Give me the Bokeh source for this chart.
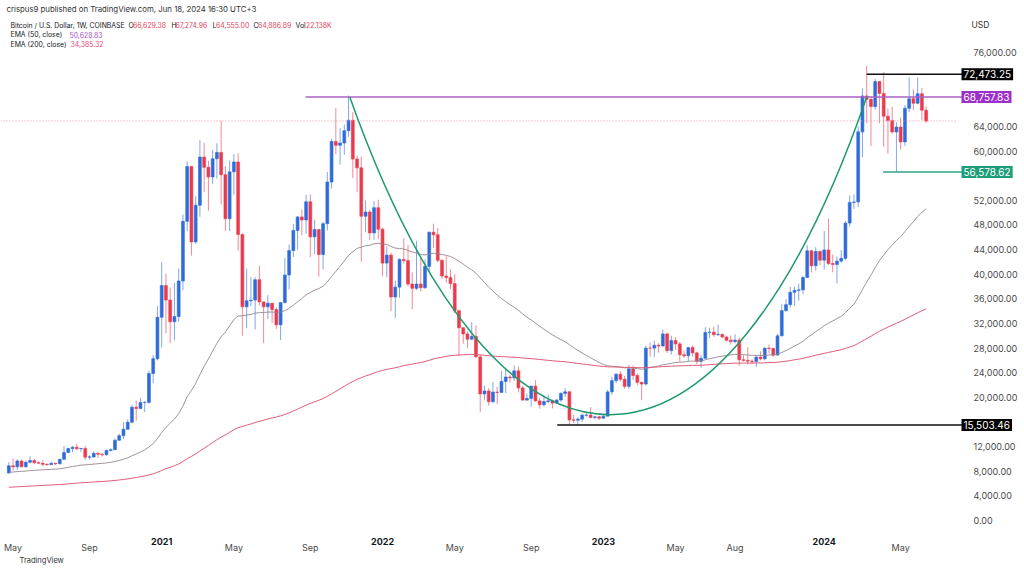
import numpy as np
import pandas as pd
from bokeh.plotting import figure
from bokeh.models import Range1d, FixedTicker, NumeralTickFormatter, Label, ColumnDataSource
from bokeh.embed import file_html
from bokeh.resources import INLINE

# ---------------- data (weekly BTC/USD, Coinbase) ----------------
START_DATE = "2020-04-27"

opens = [
    # 2020
    7700, 8900, 8720, 9670, 8720, 9450, 9750, 9390, 9300, 9120, 9070, 9300, 9210, 9930, 11050, 11680,
    11910, 11660, 11700, 10280, 10330, 10920, 10770, 10670, 11380, 11500, 13030, 13780, 14830, 15960,
    18400, 18180, 19150, 19170, 23860, 26270,
    # 2021
    33000, 38150, 35800, 32290, 33110, 38900, 48580, 57490, 45240, 51200, 59020, 57350, 55780, 58730,
    59770, 56150, 49000, 56620, 58230, 46430, 34700, 35680, 35800, 39100, 35500, 34700, 35290, 34260,
    31780, 35400, 39860, 43830, 47100, 49300, 48800, 51750, 46060, 47260, 43200, 48200, 54960, 61550,
    60930, 61300, 63300, 65000, 58700, 57270, 49400, 50100, 46700, 50800,
    # 2022
    47300, 41800, 43100, 36300, 37900, 42400, 42200, 38400, 37700, 38400, 37800, 41260, 46820, 46400,
    42250, 39700, 39450, 38470, 34060, 31300, 30290, 29440, 29900, 26570, 20550, 21030, 19300, 20850,
    20800, 22580, 23300, 23170, 24300, 21530, 19550, 19830, 21830, 19420, 18800, 19310, 19440, 19070,
    19570, 20630, 20900, 16330, 16280, 16460, 17100, 17130, 16740, 16840,
    # 2023
    16610, 16940, 20880, 22710, 23750, 22940, 21780, 24630, 23550, 22430, 22160, 28000, 27990, 28460,
    28330, 30300, 27590, 29230, 28680, 26920, 26750, 28080, 27220, 25840, 26340, 30540, 30590, 30170,
    30230, 29800, 29280, 29050, 29300, 26100, 26010, 25870, 25830, 26530, 26250, 27990, 27940, 26860,
    29990, 34080, 35050, 37060, 37370, 37460, 39460, 43790, 41370, 43700,
    # 2024
    42270, 43940, 41730, 41580, 42120, 42580, 48300, 51660, 51730, 63110, 68950, 68390, 67210, 71280,
    69360, 65660, 64940, 63100, 63890, 61480, 66940, 68500, 67760, 69300, 66629.38,
]

highs = [
    9460, 10070, 9950, 9870, 9740, 10430, 9990, 9590, 9780, 9270, 9480, 9360, 9970, 12100, 11800, 12090,
    12480, 11770, 12090, 10590, 11190, 10990, 10960, 11500, 11720, 13350, 14100, 15960, 16480, 18800,
    19480, 19920, 19420, 24300, 26870, 34800,
    41950, 40100, 37850, 38550, 40940, 49700, 58350, 57500, 52640, 61790, 61300, 58430, 60200, 61250,
    64900, 57550, 58450, 59500, 59600, 46650, 40900, 39500, 39500, 41350, 35500, 36600, 35300, 34600,
    35450, 42600, 44800, 48140, 49400, 50500, 52900, 52950, 48850, 47350, 48500, 56600, 62000, 67000,
    63700, 64300, 69000, 66300, 59300, 59100, 51950, 50500, 51900, 52100,
    47560, 44500, 43500, 38950, 42600, 45850, 44750, 40300, 45400, 42600, 42400, 46900, 48200, 47500,
    42400, 42900, 40800, 40000, 34250, 31350, 30650, 32200, 31700, 26870, 21900, 21530, 22500, 21700,
    24300, 24650, 23650, 25200, 25000, 21850, 20600, 21850, 22800, 19950, 20350, 20480, 19650, 19700,
    20850, 21450, 21050, 17200, 16800, 17380, 17400, 18400, 16950, 16960,
    17200, 21250, 23350, 23950, 24250, 23450, 25250, 25130, 23900, 22600, 28400, 28900, 29200, 28800,
    31000, 30500, 30000, 29800, 29000, 27600, 28200, 28450, 27400, 26800, 31400, 31300, 31500, 31800,
    30350, 30000, 30050, 30250, 29700, 26800, 28150, 26150, 26850, 27500, 28100, 28600, 28000, 30300,
    35200, 35950, 37950, 37950, 38450, 39700, 44700, 43950, 44400, 43800,
    47000, 49000, 43200, 42850, 43900, 48600, 52800, 52950, 64000, 70200, 73800, 68900, 71700, 71300,
    72800, 66900, 67200, 64700, 65500, 67450, 71950, 70000, 71950, 70200, 67274.96,
]

lows = [
    7650, 8120, 8200, 8700, 8630, 9260, 9150, 9220, 8830, 8900, 9060, 9000, 9140, 9900, 10960, 11100,
    11380, 11120, 9830, 9880, 10200, 10140, 10380, 10540, 11220, 11420, 12970, 13200, 14800, 15790,
    16200, 18110, 17600, 19000, 22300, 26000,
    28100, 30400, 28800, 29250, 32300, 37400, 47000, 43000, 44950, 49300, 53300, 50300, 54700, 55500,
    51300, 47000, 47000, 52900, 43800, 30000, 31200, 34800, 31000, 34900, 28800, 32700, 32100, 31100,
    29300, 35200, 37500, 42800, 43950, 46300, 46550, 42800, 43300, 39600, 40750, 47100, 53900, 59500,
    57800, 59400, 62300, 55600, 53300, 42000, 46800, 45500, 45600, 45700,
    39650, 39500, 34000, 32900, 36200, 41700, 38000, 34300, 37400, 37200, 37600, 40500, 44300, 41900,
    39200, 38600, 37600, 33700, 26700, 28700, 28000, 29300, 26500, 17600, 19600, 18650, 19050, 18900,
    20750, 20700, 22400, 22700, 20800, 19520, 19500, 18500, 19300, 18150, 18500, 19050, 18200, 18900,
    19250, 20050, 15600, 15800, 15503.46, 16000, 16860, 16550, 16400, 16330,
    16500, 16900, 20400, 22300, 22550, 21400, 21400, 22800, 21950, 19550, 21900, 26600, 26550, 27250,
    28300, 27200, 26950, 27700, 25800, 26400, 25900, 26600, 25400, 24800, 26250, 29600, 29800, 29950,
    29600, 29050, 28600, 28750, 25150, 25800, 25350, 25400, 24900, 26000, 26000, 27150, 26550, 26800,
    29900, 33900, 34550, 34800, 35700, 36800, 39400, 40300, 40550, 41450,
    40750, 41500, 40300, 38500, 41850, 42250, 47700, 50600, 50900, 59000, 64500, 60800, 66700, 64500,
    60700, 59600, 62800, 56578.62, 60200, 60800, 66300, 66600, 67600, 65100, 64555,
]

closes = [
    8900, 8720, 9670, 8720, 9450, 9750, 9390, 9300, 9120, 9070, 9300, 9210, 9930, 11050, 11680, 11910,
    11660, 11700, 10280, 10330, 10920, 10770, 10670, 11380, 11500, 13030, 13780, 14830, 15960, 18400,
    18180, 19150, 19170, 23860, 26270, 33000,
    38150, 35800, 32290, 33110, 38900, 48580, 57490, 45240, 51200, 59020, 57350, 55780, 58730, 59770,
    56150, 49000, 56620, 58230, 46430, 34700, 35680, 35800, 39100, 35500, 34700, 35290, 34260, 31780,
    35400, 39860, 43830, 47100, 49300, 48800, 51750, 46060, 47260, 43200, 48200, 54960, 61550, 60930,
    61300, 63300, 65000, 58700, 57270, 49400, 50100, 46700, 50800, 47300,
    41800, 43100, 36300, 37900, 42400, 42200, 38400, 37700, 38400, 37800, 41260, 46820, 46400, 42250,
    39700, 39450, 38470, 34060, 31300, 30290, 29440, 29900, 26570, 20550, 21030, 19300, 20850, 20800,
    22580, 23300, 23170, 24300, 21530, 19550, 19830, 21830, 19420, 18800, 19310, 19440, 19070, 19570,
    20630, 20900, 16330, 16280, 16460, 17100, 17130, 16740, 16840, 16610,
    16940, 20880, 22710, 23750, 22940, 21780, 24630, 23550, 22430, 22160, 28000, 27990, 28460, 28330,
    30300, 27590, 29230, 28680, 26920, 26750, 28080, 27220, 25840, 26340, 30540, 30590, 30170, 30230,
    29800, 29280, 29050, 29300, 26100, 26010, 25870, 25830, 26530, 26250, 27990, 27940, 26860, 29990,
    34080, 35050, 37060, 37370, 37460, 39460, 43790, 41370, 43700, 42270,
    43940, 41730, 41580, 42120, 42580, 48300, 51660, 51730, 63110, 68950, 68390, 67210, 71280, 69360,
    65660, 64940, 63100, 63890, 61480, 66940, 68500, 67760, 69300, 66630, 64886.89,
]

ema50_start = 7840
ema200_start = 5400

price_ticks = [0, 4000, 8000, 12000, 20000, 24000, 28000, 32000, 36000, 40000, 44000, 48000,
               52000, 60000, 64000, 76000]

month_tick_dates = ["2020-05-04", "2020-09-07", "2021-05-03", "2021-09-06", "2022-05-02",
                    "2022-09-05", "2023-05-01", "2023-08-07", "2024-05-06"]
month_tick_labels = ["May", "Sep", "May", "Sep", "May", "Sep", "May", "Aug", "May"]
year_tick_dates = ["2021-01-04", "2022-01-03", "2023-01-02", "2024-01-01"]
year_tick_labels = ["2021", "2022", "2023", "2024"]

level_prices = [72473.25, 68757.83, 56578.62, 15503.46]
level_texts = ["72,473.25", "68,757.83", "56,578.62", "15,503.46"]
level_start_dates = ["2024-03-11", "2021-08-29", "2024-04-07", "2022-10-18"]

cup_dates = ["2021-11-10", "2022-07-16", "2023-07-14", "2024-03-11"]
cup_prices = [68757.83, 0, 0, 68757.83]

header_title = "crispus9 published on TradingView.com, Jun 18, 2024 16:30 UTC+3"
symbol_text = "Bitcoin / U.S. Dollar, 1W, COINBASE"
ohlc_keys = ["O", "H", "L", "C", "Vol"]
ohlc_vals = ["66,629.38", "67,274.96", "64,555.00", "64,886.89", "22.138K"]
ema_names = ["EMA (50, close)", "EMA (200, close)"]
ema_vals = ["50,628.83", "34,385.32"]

# ---------------- styles / layout ----------------
UP = "#2f6bd9"
DOWN = "#ea3b4e"
FONT = "Inter"
AX_COL = "#4a4a4a"
W, H = 1024, 570
PX_W0, PX_PER_WEEK = 8.3, 4.247        # pixel of first bar, pixels per weekly bar
PX_P0, PX_PER_K = 520.0, 6.158         # pixel of price 0, pixels per 1000 USD
SCALE_PX = 955                         # left edge of the price scale
DATE_PX = 530                          # top edge of the time scale

n = len(closes)
dates = pd.date_range(START_DATE, periods=n, freq="7D")


def widx(d):
    return (pd.Timestamp(d) - dates[0]).days / 7.0


def px_to_w(px):
    return (px - PX_W0) / PX_PER_WEEK


def py_to_price(py):
    return (PX_P0 - py) / PX_PER_K * 1000


o = np.array(opens, float)
c = np.array(closes, float)
h = np.array(highs, float)
l = np.array(lows, float)
x = np.arange(n)
col = np.where(c >= o, UP, DOWN)

ema50 = np.empty(n)
ema200 = np.empty(n)
a50, a200 = 2 / 51, 2 / 201
e50, e200 = ema50_start, ema200_start
for i in range(n):
    if i > 0:
        e50 = e50 + a50 * (c[i] - e50)
        e200 = e200 + a200 * (c[i] - e200)
    ema50[i] = e50
    ema200[i] = e200

src = ColumnDataSource(dict(x=x, o=o, h=h, l=l, c=c, top=np.maximum(o, c), bot=np.minimum(o, c),
                            col=col, e50=ema50, e200=ema200))

X0, X1 = px_to_w(0), px_to_w(W)
XS = px_to_w(SCALE_PX)
p = figure(width=W, height=H, output_backend="svg", toolbar_location=None, title=None,
           x_range=Range1d(X0, X1), y_range=Range1d(py_to_price(H), py_to_price(0)),
           y_axis_location="right",
           min_border_left=0, min_border_top=0, min_border_right=0, min_border_bottom=0)
p.background_fill_color = "white"
p.border_fill_color = "white"
p.outline_line_color = None
p.grid.visible = False

# candles
p.segment("x", "h", "x", "l", source=src, line_color="col", line_width=1, line_alpha=0.6)
p.vbar(x="x", width=0.68, top="top", bottom="bot", source=src, fill_color="col", line_color="col",
       line_width=0.6)

# EMAs
p.line("x", "e50", source=src, line_color="#958690", line_width=0.9)
p.line("x", "e200", source=src, line_color="#e35a78", line_width=1)

# last price dotted line
p.segment(x0=[X0], y0=[closes[-1]], x1=[XS], y1=[closes[-1]], line_color="#ee8f9c",
          line_dash="1 2", line_width=1)

# horizontal levels
level_line_colors = ["#111111", "#ad62c6", "#2fa585", "#111111"]
level_box_colors = ["#000000", "#9b2fc9", "#1d9e78", "#000000"]
XL = px_to_w(962)
for price, d0, lc in zip(level_prices, level_start_dates, level_line_colors):
    p.segment(x0=[widx(d0)], y0=[price], x1=[XL], y1=[price], line_color=lc, line_width=1.5)

# cup curve
cx = [widx(d) for d in cup_dates]
p.bezier(x0=[cx[0]], y0=[cup_prices[0]], cx0=[cx[1]], cy0=[cup_prices[1]],
         cx1=[cx[2]], cy1=[cup_prices[2]], x1=[cx[3]], y1=[cup_prices[3]],
         line_color="#1f9a6e", line_width=1.5)

# axes (placed inside the full-canvas frame)
ya = p.yaxis[0]
ya.fixed_location = XS
ya.ticker = FixedTicker(ticks=price_ticks)
ya.formatter = NumeralTickFormatter(format="0,0.00")
ya.axis_line_color = None
ya.major_tick_line_color = None
ya.minor_tick_line_color = None
ya.major_label_standoff = 12
ya.major_label_text_font = FONT
ya.major_label_text_font_size = "9px"
ya.major_label_text_color = AX_COL

xa = p.xaxis[0]
xa.fixed_location = py_to_price(DATE_PX)
m_idx = [int(round(widx(d))) for d in month_tick_dates]
xa.ticker = FixedTicker(ticks=m_idx)
xa.major_label_overrides = {i: t for i, t in zip(m_idx, month_tick_labels)}
xa.axis_line_color = None
xa.major_tick_line_color = None
xa.minor_tick_line_color = None
xa.major_label_standoff = 5
xa.major_label_text_font = FONT
xa.major_label_text_font_size = "9px"
xa.major_label_text_color = AX_COL


def lab(x_, cy, text, color="#131722", size="6.9px", style="normal", xu="screen", align="left", **kw):
    p.add_layout(Label(x=x_, y=H - cy, x_units=xu, y_units="screen", text=text, text_color=color,
                       text_font=FONT, text_font_size=size, text_font_style=style,
                       text_align=align, text_baseline="middle", **kw))


for d, t in zip(year_tick_dates, year_tick_labels):
    lab(widx(d), 540.5, t, color="#131722", size="9px", style="bold", xu="data", align="center")

# price boxes on the scale
for price, txt, bc in zip(level_prices, level_texts, level_box_colors):
    p.add_layout(Label(x=961, y=price, x_units="screen", y_units="data", text=txt, text_color="white",
                       text_font=FONT, text_font_size="10px", text_align="left", text_baseline="middle",
                       background_fill_color=bc, padding=2))

lab(971, 24, "USD", color="#333333", size="8.5px")
lab(19, 560, "TradingView", color="#333333", size="7.5px")

# header
lab(6, 8, header_title, color="#333333", size="7.8px")
lab(10, 24.5, symbol_text)
key_x = [128, 171, 212, 253, 295]
val_x = [132.5, 175, 215.5, 257.5, 305.5]
for k, kx, v, vx in zip(ohlc_keys, key_x, ohlc_vals, val_x):
    lab(kx, 24.5, k)
    lab(vx, 24.5, v, color="#e8445a")
lab(10, 34, ema_names[0])
lab(69, 34, ema_vals[0], color="#a055cc")
lab(10, 43.5, ema_names[1])
lab(70, 43.5, ema_vals[1], color="#e4477a")

open("out.html", "w").write(file_html(p, INLINE))
